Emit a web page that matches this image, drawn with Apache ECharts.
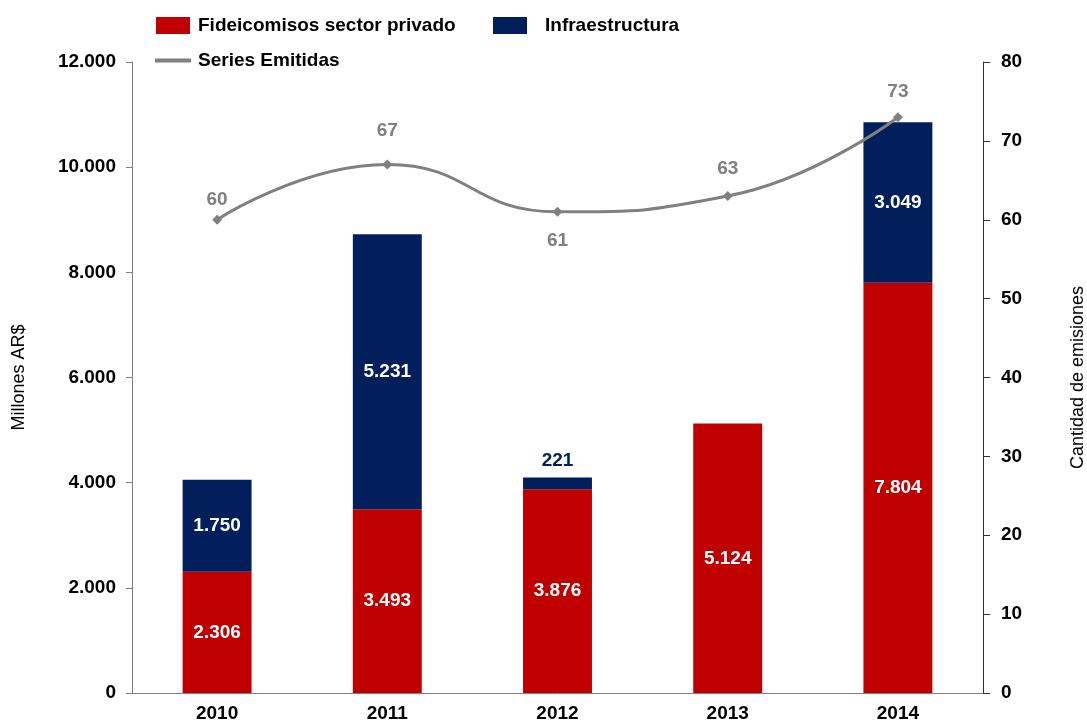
<!DOCTYPE html>
<html>
<head>
<meta charset="utf-8">
<script src="https://cdn.jsdelivr.net/npm/echarts@6/dist/echarts.min.js"></script>
<style>
  html, body { margin: 0; padding: 0; background: #fff; }
  #chart { width: 1087px; height: 725px; }
</style>
</head>
<body>
<div id="chart"></div>
<script>
// datos
const years = ["2010", "2011", "2012", "2013", "2014"];
const privado = [2306, 3493, 3876, 5124, 7804];
const infra = [1750, 5231, 221, null, 3049];
const series = [60, 67, 61, 63, 73];
const seriesLabelPos = ["top", "top", "bottom", "top", "top"];
const seriesLabelDist = [5, 19, 14, 13, 11];

const RED = "#C00000";
const NAVY = "#001F5B";
const GRAY = "#808080";
const FONT = "Liberation Sans, Arial, sans-serif";

function miles(v) {
  return String(v).replace(/\B(?=(\d{3})+(?!\d))/g, ".");
}

const infraData = infra.map(v => {
  if (v !== null && v < 1000) {
    return { value: v, label: { position: "top", color: NAVY, distance: 7 } };
  }
  return v;
});

const lineData = series.map((v, i) => ({
  value: v,
  label: { position: seriesLabelPos[i], distance: seriesLabelDist[i] }
}));

const legendText = { fontSize: 19, fontWeight: "bold", color: "#000" };

const chart = echarts.init(document.getElementById("chart"));
chart.setOption({
  animation: false,
  textStyle: { fontFamily: FONT },
  legend: [
    {
      data: ["Fideicomisos sector privado"],
      left: 151, top: 11,
      itemWidth: 34, itemHeight: 17,
      icon: "rect",
      textStyle: Object.assign({ padding: [0, 0, 0, 3] }, legendText)
    },
    {
      data: ["Infraestructura"],
      left: 488, top: 11,
      itemWidth: 34, itemHeight: 17,
      icon: "rect",
      textStyle: Object.assign({ padding: [0, 0, 0, 13] }, legendText)
    },
    {
      data: ["Series Emitidas"],
      left: 150, top: 46,
      itemWidth: 36, itemHeight: 4,
      icon: "rect",
      itemStyle: { color: GRAY },
      textStyle: Object.assign({ padding: [0, 0, 0, 2] }, legendText)
    }
  ],
  grid: { left: 132, right: 104, top: 62, bottom: 32, containLabel: false, outerBoundsMode: "none" },
  xAxis: {
    type: "category",
    data: years,
    axisLine: { lineStyle: { color: "#808080" } },
    axisTick: { length: 6, lineStyle: { color: "#808080" } },
    axisLabel: { fontSize: 19, fontWeight: "bold", color: "#000", margin: 11 }
  },
  yAxis: [
    {
      type: "value",
      min: 0, max: 12000, interval: 2000,
      name: "Millones AR$",
      nameLocation: "middle",
      nameGap: 104,
      nameTextStyle: { fontSize: 18, color: "#000" },
      axisLine: { show: true, lineStyle: { color: "#808080" } },
      axisTick: { show: true, length: 6, lineStyle: { color: "#808080" } },
      splitLine: { show: false },
      axisLabel: { fontSize: 19, fontWeight: "bold", color: "#000", margin: 16, formatter: miles }
    },
    {
      type: "value",
      min: 0, max: 80, interval: 10,
      name: "Cantidad de emisiones",
      nameLocation: "middle",
      nameGap: 86,
      nameRotate: 90,
      nameTextStyle: { fontSize: 18, color: "#000" },
      axisLine: { show: true, lineStyle: { color: "#303030" } },
      axisTick: { show: true, length: 7, lineStyle: { color: "#303030" } },
      splitLine: { show: false },
      axisLabel: { fontSize: 19, fontWeight: "bold", color: "#000", margin: 18 }
    }
  ],
  series: [
    {
      name: "Fideicomisos sector privado",
      type: "bar",
      stack: "total",
      barWidth: "40.5%",
      itemStyle: { color: RED },
      label: {
        show: true, position: "inside", color: "#fff",
        fontSize: 19, fontWeight: "bold",
        formatter: p => miles(p.value)
      },
      data: privado
    },
    {
      name: "Infraestructura",
      type: "bar",
      stack: "total",
      itemStyle: { color: NAVY },
      label: {
        show: true, position: "inside", color: "#fff",
        fontSize: 19, fontWeight: "bold",
        formatter: p => (p.value == null ? "" : miles(p.value))
      },
      data: infraData
    },
    {
      name: "Series Emitidas",
      type: "line",
      yAxisIndex: 1,
      smooth: true,
      symbol: "diamond",
      symbolSize: 10,
      lineStyle: { color: GRAY, width: 3 },
      itemStyle: { color: GRAY },
      label: {
        show: true, color: GRAY, fontSize: 19, fontWeight: "bold"
      },
      data: lineData
    }
  ]
});
</script>
</body>
</html>
